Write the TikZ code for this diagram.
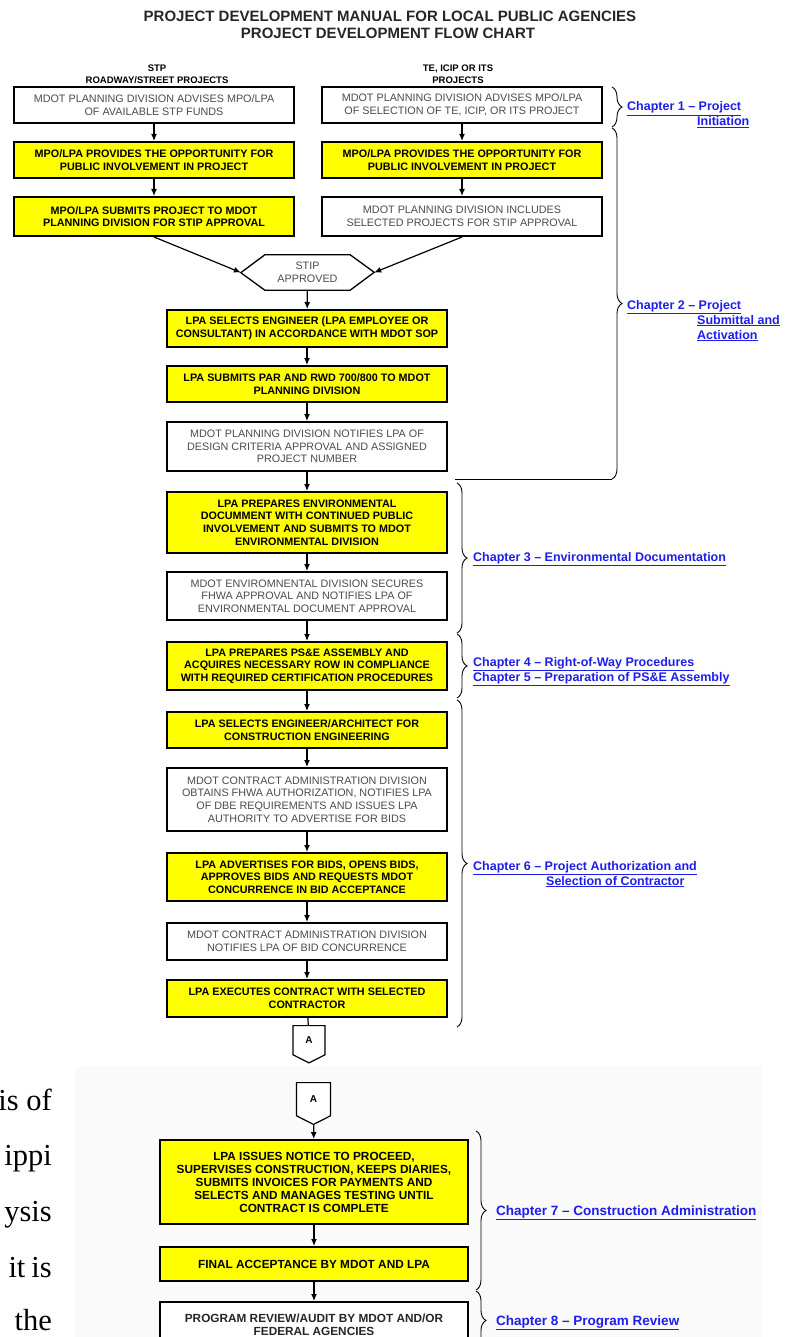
\documentclass[tikz,border=0pt]{standalone}
\usepackage{xcolor}
\usepackage{fontspec}
\setmainfont{Liberation Sans}
\newfontfamily\pageserif{Liberation Serif}
\usetikzlibrary{shapes.symbols, arrows.meta, positioning, calc, decorations.pathreplacing}

\definecolor{linkblue}{RGB}{30,30,235}
\definecolor{boxyellow}{RGB}{255,255,0}

\newcommand{\boxfont}{\fontsize{10.8}{12.7}\selectfont}
\newcommand{\lowfont}{\fontsize{11.8}{13}\selectfont}
\newcommand{\chapfont}{\fontsize{12.5}{15}\selectfont\bfseries}

\tikzset{
  ybox/.style={draw, line width=2pt, fill=boxyellow, font=\boxfont\bfseries, align=center, inner sep=0pt, minimum width=280},
  wbox/.style={draw, line width=2pt, fill=white, text=black!70, font=\boxfont, align=center, inner sep=0pt, minimum width=280},
  flow/.style={line width=1.2pt, -{Latex[length=7pt,width=6pt]}},
  chbrace/.style={decorate, decoration={brace, amplitude=10pt}, line width=0.9pt},
  chlink/.style={anchor=base west, text=linkblue, font=\chapfont, inner sep=0pt},
  colhead/.style={anchor=base, font=\fontsize{9.5}{11}\selectfont\bfseries, inner sep=0pt},
  offpage/.style={draw, line width=1.2pt, fill=white, shape=signal, signal to=south, signal pointer angle=126, font=\fontsize{10}{10}\selectfont\bfseries, inner sep=0pt},
  pagetext/.style={anchor=base east, font=\pageserif\fontsize{30.5}{36}\selectfont, inner sep=0pt}
}

\begin{document}
\begin{tikzpicture}[x=1pt, y=-1pt]
    \useasboundingbox (0,0) rectangle (786,1337);

    % Second scan (bottom part)
    \fill[black!2] (75,1067) rectangle (762,1337);

    % Title
    \node[anchor=base, font=\fontsize{15}{17}\selectfont\bfseries, text=black!85, inner sep=0pt] (title1) at (390,22) {PROJECT DEVELOPMENT MANUAL FOR LOCAL PUBLIC AGENCIES};
    \node[anchor=base, font=\fontsize{15}{17}\selectfont\bfseries, text=black!85, inner sep=0pt] (title2) at (388,39) {PROJECT DEVELOPMENT FLOW CHART};

    % Column headers
    \node[colhead] (hstp) at (157,72) {STP};
    \node[colhead] (hstp2) at (157,84) {ROADWAY/STREET PROJECTS};
    \node[colhead] (hte) at (458,72) {TE, ICIP OR ITS};
    \node[colhead] (hte2) at (458,84) {PROJECTS};

    % Left column - STP
    \node[wbox, minimum height=36] (l1) at (154,105) {MDOT PLANNING DIVISION ADVISES MPO/LPA\\OF AVAILABLE STP FUNDS};
    \node[ybox, minimum height=36] (l2) at (154,160) {MPO/LPA PROVIDES THE OPPORTUNITY FOR\\PUBLIC INVOLVEMENT IN PROJECT};
    \node[ybox, minimum height=39] (l3) at (154,216.5) {MPO/LPA SUBMITS PROJECT TO MDOT\\PLANNING DIVISION FOR STIP APPROVAL};

    % Right column - TE, ICIP, ITS
    \node[wbox, minimum height=36] (r1) at (462,105) {MDOT PLANNING DIVISION ADVISES MPO/LPA\\OF SELECTION OF TE, ICIP, OR ITS PROJECT};
    \node[ybox, minimum height=36] (r2) at (462,160) {MPO/LPA PROVIDES THE OPPORTUNITY FOR\\PUBLIC INVOLVEMENT IN PROJECT};
    \node[wbox, minimum height=39] (r3) at (462,216.5) {MDOT PLANNING DIVISION INCLUDES\\SELECTED PROJECTS FOR STIP APPROVAL};

    % STIP hexagon
    \node[font=\boxfont, text=black!70, align=center, inner sep=0pt, minimum width=85, minimum height=35] (stip) at (307.5,272.5) {STIP\\APPROVED};
    \draw[line width=1.3pt] (stip.north west) -- (stip.north east) -- ++(24,17.5) -- (stip.south east) -- (stip.south west) -- ++(-24,-17.5) -- cycle;
    \coordinate (stipW) at ($(stip.west)+(-24,0)$);
    \coordinate (stipE) at ($(stip.east)+(24,0)$);

    % Main column
    \node[ybox, minimum height=37] (c1) at (307,328.5) {LPA SELECTS ENGINEER (LPA EMPLOYEE OR\\CONSULTANT) IN ACCORDANCE WITH MDOT SOP};
    \node[ybox, minimum height=36] (c2) at (307,384) {LPA SUBMITS PAR AND RWD 700/800 TO MDOT\\PLANNING DIVISION};
    \node[wbox, minimum height=49] (c3) at (307,446.5) {MDOT PLANNING DIVISION NOTIFIES LPA OF\\DESIGN CRITERIA APPROVAL AND ASSIGNED\\PROJECT NUMBER};
    \node[ybox, minimum height=61] (c4) at (307,522.5) {LPA PREPARES ENVIRONMENTAL\\DOCUMMENT WITH CONTINUED PUBLIC\\INVOLVEMENT AND SUBMITS TO MDOT\\ENVIRONMENTAL DIVISION};
    \node[wbox, minimum height=48] (c5) at (307,596) {MDOT ENVIROMNENTAL DIVISION SECURES\\FHWA APPROVAL AND NOTIFIES LPA OF\\ENVIRONMENTAL DOCUMENT APPROVAL};
    \node[ybox, minimum height=48] (c6) at (307,666) {LPA PREPARES PS\&E ASSEMBLY AND\\ACQUIRES NECESSARY ROW IN COMPLIANCE\\WITH REQUIRED CERTIFICATION PROCEDURES};
    \node[ybox, minimum height=36] (c7) at (307,730) {LPA SELECTS ENGINEER/ARCHITECT FOR\\CONSTRUCTION ENGINEERING};
    \node[wbox, minimum height=63] (c8) at (307,799.5) {MDOT CONTRACT ADMINISTRATION DIVISION\\OBTAINS FHWA AUTHORIZATION, NOTIFIES LPA\\OF DBE REQUIREMENTS AND ISSUES LPA\\AUTHORITY TO ADVERTISE FOR BIDS};
    \node[ybox, minimum height=48] (c9) at (307,877) {LPA ADVERTISES FOR BIDS, OPENS BIDS,\\APPROVES BIDS AND REQUESTS MDOT\\CONCURRENCE IN BID ACCEPTANCE};
    \node[wbox, minimum height=37] (c10) at (307,941.5) {MDOT CONTRACT ADMINISTRATION DIVISION\\NOTIFIES LPA OF BID CONCURRENCE};
    \node[ybox, minimum height=37] (c11) at (307,998.5) {LPA EXECUTES CONTRACT WITH SELECTED\\CONTRACTOR};
    \node[offpage, minimum width=32, minimum height=31, anchor=north] (a1) at (309,1025) {A};

    % Arrows
    \foreach \a/\b in {l1/l2, l2/l3, r1/r2, r2/r3, c1/c2, c2/c3, c3/c4, c4/c5, c5/c6, c6/c7, c7/c8, c8/c9, c9/c10, c10/c11}
        \draw[flow] (\a) -- (\b);
    \draw[flow] (l3.south) -- (stipW);
    \draw[flow] (r3.south) -- (stipE);
    \draw[flow] (stip) -- (c1);
    \draw[line width=1.2pt] (c11) -- (a1);

    % Chapter braces
    \draw[chbrace] (612,87) -- (612,127);
    \draw[chbrace] (612,128) -- (612,479);
    \draw[line width=0.9pt] (612,479) -- (455,479);
    \draw[chbrace] (457,483) -- (457,633);
    \draw[chbrace] (457,634) -- (457,698);
    \draw[chbrace] (457,700) -- (457,1027);

    % Chapter links
    \node[chlink] (ch1) at (627,111) {\underline{Chapter 1 – Project}};
    \node[chlink] (ch1b) at (697,126) {\underline{Initiation}};
    \node[chlink] (ch2) at (627,309) {\underline{Chapter 2 – Project}};
    \node[chlink] (ch2b) at (697,324) {\underline{Submittal and}};
    \node[chlink] (ch2c) at (697,339) {\underline{Activation}};
    \node[chlink] (ch3) at (473,561) {\underline{Chapter 3 – Environmental Documentation}};
    \node[chlink] (ch4) at (473,666) {\underline{Chapter 4 – Right-of-Way Procedures}};
    \node[chlink] (ch5) at (473,681) {\underline{Chapter 5 – Preparation of PS\&E Assembly}};
    \node[chlink] (ch6) at (473,870) {\underline{Chapter 6 – Project Authorization and}};
    \node[chlink] (ch6b) at (546,885) {\underline{Selection of Contractor}};

    % Bottom part
    \node[offpage, minimum width=34, minimum height=35, anchor=north] (a2) at (313.5,1082) {A};
    \node[ybox, font=\lowfont\bfseries, minimum width=308, minimum height=84] (n1) at (314,1182) {LPA ISSUES NOTICE TO PROCEED,\\SUPERVISES CONSTRUCTION, KEEPS DIARIES,\\SUBMITS INVOICES FOR PAYMENTS AND\\SELECTS AND MANAGES TESTING UNTIL\\CONTRACT IS COMPLETE};
    \node[ybox, font=\lowfont\bfseries, minimum width=308, minimum height=34] (n2) at (314,1264) {FINAL ACCEPTANCE BY MDOT AND LPA};
    \node[wbox, font=\lowfont\bfseries, text=black!85, minimum width=308, minimum height=46] (n3) at (314,1325) {PROGRAM REVIEW/AUDIT BY MDOT AND/OR\\FEDERAL AGENCIES};
    \foreach \a/\b in {a2/n1, n1/n2, n2/n3}
        \draw[flow] (\a) -- (\b);

    \draw[chbrace] (476,1131) -- (476,1290);
    \draw[chbrace] (476,1291) -- (476,1350);
    \node[chlink, font=\fontsize{13.5}{16}\selectfont\bfseries] (ch7) at (496,1215) {\underline{Chapter 7 – Construction Administration}};
    \node[chlink, font=\fontsize{13.5}{16}\selectfont\bfseries] (ch8) at (496,1325) {\underline{Chapter 8 – Program Review}};

    % Page text at the left
    \node[pagetext] (w1) at (52,1110) {is of};
    \node[pagetext] (w2) at (52,1165) {ippi};
    \node[pagetext] (w3) at (52,1221) {ysis};
    \node[pagetext] (w4) at (52,1277) {it\hspace{6pt}is};
    \node[pagetext] (w5) at (52,1330) {the};
\end{tikzpicture}
\end{document}
